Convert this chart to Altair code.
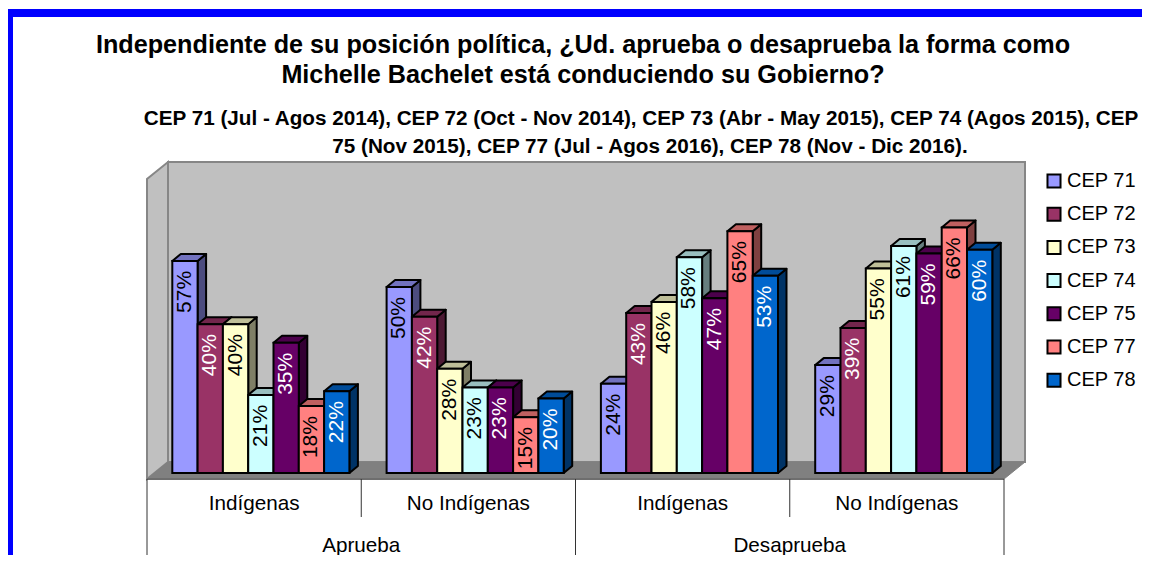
import altair as alt
import pandas as pd

FONT = "Liberation Sans"
title_lines = ["Independiente de su posición política, ¿Ud. aprueba o desaprueba la forma como",
               "Michelle Bachelet está conduciendo su Gobierno?"]
sub_lines = ["CEP 71 (Jul - Agos 2014), CEP 72 (Oct - Nov 2014), CEP 73 (Abr - May 2015), CEP 74 (Agos 2015), CEP",
             "75 (Nov 2015), CEP 77 (Jul - Agos 2016), CEP 78 (Nov - Dic 2016)."]
series = ["CEP 71", "CEP 72", "CEP 73", "CEP 74", "CEP 75", "CEP 77", "CEP 78"]
colors = ["#9999FF", "#993366", "#FFFFCC", "#CCFFFF", "#660066", "#FF8080", "#0066CC"]
text_colors = ["black", "white", "black", "black", "white", "black", "white"]
groups = ["Indígenas", "No Indígenas", "Indígenas", "No Indígenas"]
outer = ["Aprueba", "Desaprueba"]
v_ap_ind = [57, 40, 40, 21, 35, 18, 22]
v_ap_no = [50, 42, 28, 23, 23, 15, 20]
v_de_ind = [24, 43, 46, 58, 47, 65, 53]
v_de_no = [29, 39, 55, 61, 59, 66, 60]
values = [v_ap_ind, v_ap_no, v_de_ind, v_de_no]

# layout: 1 x-unit = one bar width; y-unit = percentage point
PX_X, PX_Y = 25.3, 3.72
X0_PX, Y0_PX = 172.3, 473.0
ux = lambda px: (px - X0_PX) / PX_X
uy = lambda py: (Y0_PX - py) / PX_Y
L, R, T, B = 147, 1025, 162, 479
PITCH = 214.3 / PX_X
DX, DY = 8.5 / PX_X, 7 / PX_Y
WX, WY = 21 / PX_X, 17 / PX_Y

xs = alt.Scale(domain=[ux(L), ux(R)], nice=False, zero=False)
ys = alt.Scale(domain=[uy(B), uy(T)], nice=False, zero=False)
X = lambda f="x": alt.X(f"{f}:Q", scale=xs, axis=None)
Y = lambda f="y": alt.Y(f"{f}:Q", scale=ys, axis=None)

def shade(c, k):
    return "#" + "".join(f"{int(int(c[i:i+2], 16) * k):02X}" for i in (1, 3, 5))

front, side, top, labels = [], [], [], []
for g, vals in enumerate(values):
    for i, v in enumerate(vals):
        x0 = g * PITCH + i
        bid = f"{g}-{i}"
        front.append(dict(x=x0, x2=x0 + 1, y=v, y2=0, series=series[i]))
        c = colors[i]
        side += [dict(id=bid, x=x0 + 1, y=v, y2=0, c=shade(c, .5)),
                 dict(id=bid, x=x0 + 1 + DX, y=v + DY, y2=DY, c=shade(c, .5))]
        top += [dict(id=bid, y=v, x=x0, x2=x0 + 1, c=shade(c, .75)),
                dict(id=bid, y=v + DY, x=x0 + DX, x2=x0 + 1 + DX, c=shade(c, .75))]
        labels.append(dict(x=x0 + .5, y=v - 31 / PX_Y, t=f"{v}%", c=text_colors[i]))

wall_back = pd.DataFrame([dict(x=ux(L) + WX, x2=ux(R), y=uy(B) + WY, y2=uy(T))])
wall_left = pd.DataFrame([dict(x=ux(L), y=uy(B), y2=uy(T) - WY),
                          dict(x=ux(L) + WX, y=uy(B) + WY, y2=uy(T))])
floor = pd.DataFrame([dict(y=uy(B), x=ux(L), x2=ux(R) - WX),
                      dict(y=uy(B) + WY, x=ux(L) + WX, x2=ux(R))])
border = pd.DataFrame([dict(o=0, x=ux(9), y=uy(590)), dict(o=1, x=ux(9), y=uy(13)), dict(o=2, x=ux(1170), y=uy(13))])

GX = [ux(L) + k * (ux(R) - WX - ux(L)) / 4 for k in range(5)]
rules = pd.DataFrame([dict(x=GX[k], y=uy(B), y2=uy(562 if k % 2 == 0 else 517)) for k in range(5)])
base = pd.DataFrame([dict(x=GX[0], x2=GX[4], y=uy(B))])
lab1 = pd.DataFrame([dict(x=(GX[k] + GX[k + 1]) / 2, y=uy(504), t=groups[k]) for k in range(4)])
lab2 = pd.DataFrame([dict(x=(GX[k * 2] + GX[k * 2 + 2]) / 2, y=uy(546), t=outer[k]) for k in range(2)])
subt = pd.DataFrame([dict(x=ux(641), y=uy(119), t=sub_lines[0]), dict(x=ux(650), y=uy(147), t=sub_lines[1])])

GRAY = "#868686"
layers = [
    alt.Chart(border).mark_line(color="#0000FF", strokeWidth=8, strokeJoin="round", interpolate="linear").encode(X(), Y(), order="o:Q"),
    alt.Chart(wall_back).mark_rect(fill="#C0C0C0", stroke=GRAY, strokeWidth=2).encode(X(), x2="x2:Q", y=Y(), y2="y2:Q"),
    alt.Chart(wall_left).mark_area(fill="#C0C0C0", stroke=GRAY, strokeWidth=2).encode(X(), Y(), y2="y2:Q"),
    alt.Chart(floor).mark_area(fill="#808080", stroke="#808080", strokeWidth=1, orient="horizontal").encode(X(), x2="x2:Q", y=Y()),
    alt.Chart(base).mark_rule(color="#6E6E6E", strokeWidth=2).encode(X(), x2="x2:Q", y=Y()),
    alt.Chart(rules).mark_rule(color="#333333", strokeWidth=1).encode(X(), y=Y(), y2="y2:Q"),
    alt.Chart(pd.DataFrame(side)).mark_area(stroke="black", strokeWidth=2, strokeJoin="round").encode(
        X(), Y(), y2="y2:Q", detail="id:N", fill=alt.Fill("c:N", scale=None)),
    alt.Chart(pd.DataFrame(top)).mark_area(stroke="black", strokeWidth=2, orient="horizontal", strokeJoin="round").encode(
        X(), x2="x2:Q", y=Y(), detail="id:N", fill=alt.Fill("c:N", scale=None)),
    alt.Chart(pd.DataFrame(front)).mark_rect(stroke="black", strokeWidth=2).encode(
        X(), x2="x2:Q", y=Y(), y2="y2:Q",
        fill=alt.Fill("series:N", scale=alt.Scale(domain=series, range=colors),
                      legend=alt.Legend(orient="none", legendX=897, legendY=9, title=None, symbolType="square",
                                        symbolSize=170, symbolStrokeColor="black", symbolStrokeWidth=2,
                                        labelFont=FONT, labelFontSize=20, labelColor="black", labelOffset=3,
                                        rowPadding=11.2, symbolOpacity=1))),
    alt.Chart(pd.DataFrame(labels)).mark_text(font=FONT, fontSize=21, angle=270, baseline="middle", align="center").encode(
        X(), Y(), text="t:N", color=alt.Color("c:N", scale=None)),
    alt.Chart(lab1).mark_text(font=FONT, fontSize=20.7, color="black").encode(X(), Y(), text="t:N"),
    alt.Chart(lab2).mark_text(font=FONT, fontSize=20.7, color="black").encode(X(), Y(), text="t:N"),
    alt.Chart(subt).mark_text(font=FONT, fontSize=20.7, fontWeight="bold", color="black").encode(X(), Y(), text="t:N"),
]

chart = alt.layer(*layers).properties(
    width=R - L, height=B - T,
    padding={"left": L - 8, "top": T - 8, "right": 117, "bottom": 76},
    autosize=alt.AutoSizeParams(type="none"),
    title=alt.Title(text=title_lines, font=FONT, fontSize=25.2, fontWeight="bold", color="black",
                    anchor="middle", dx=-3, offset=-79, lineHeight=30),
).configure_view(stroke=None)

chart.save("out.html", embed_options={"renderer": "svg", "actions": False})
